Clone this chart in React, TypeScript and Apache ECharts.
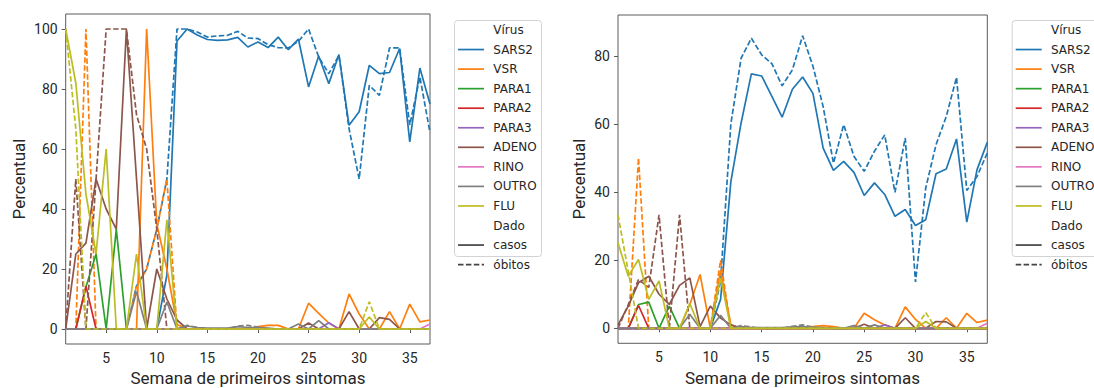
import React, { useEffect, useRef } from "react";
import * as echarts from "echarts";

// ---------- categories ----------
const weeks = [1, 2, 3, 4, 5, 6, 7, 8, 9, 10, 11, 12, 13, 14, 15, 16, 17, 18, 19, 20, 21, 22, 23, 24, 25, 26, 27, 28, 29, 30, 31, 32, 33, 34, 35, 36, 37];
const viruses = ["SARS2", "VSR", "PARA1", "PARA2", "PARA3", "ADENO", "RINO", "OUTRO", "FLU"];
const dataKinds = ["casos", "óbitos"];
const xTicks = [5, 10, 15, 20, 25, 30, 35];
const yTicksLeft = [0, 20, 40, 60, 80, 100];
const yTicksRight = [0, 20, 40, 60, 80];

// ---------- left panel (percent) ----------
const leftSARS2Casos = [0, 0, 0, 0, 0, 0, 0, 0, 0, 0, 18, 96, 100, 98, 96.5, 96.2, 96.4, 97.2, 94, 95.7, 93.8, 97.3, 93.1, 96.6, 80.7, 91, 81.8, 91.5, 67.9, 72.4, 87.9, 85.1, 85.5, 93.5, 62.4, 87, 75];
const leftSARS2Obitos = [0, 0, 0, 0, 0, 0, 0, 14.3, 20, 33.3, 50, 100, 100, 99, 97.3, 97.7, 97.9, 99.2, 97, 96.8, 94.8, 93.8, 93.7, 95.9, 100, 90.7, 85.1, 91.2, 66.8, 50, 81.2, 77.9, 93.7, 93.7, 68, 84, 65.5];
const leftVSRCasos = [0, 0, 0, 0, 0, 0, 0, 0, 100, 35, 20, 1.5, 0, 0, 0, 0, 0, 0, 0, 0.8, 1.2, 1.2, 0, 0, 8.6, 5.2, 2, 0, 11.7, 5, 0, 0, 5.8, 0, 8.3, 2.4, 3];
const leftVSRObitos = [0, 0, 100, 0, 0, 0, 0, 14.3, 20, 33.3, 50, 0, 0, 0, 0, 0, 0, 0, 0, 0, 0, 0, 0, 0, 0, 0, 0, 0, 0, 0, 0, 0, 0, 0, 0, 0, 0];
const leftPARA1Casos = [0, 0, 14, 25, 0, 33.3, 0, 0, 0, 0, 0, 0, 0, 0, 0, 0, 0, 0, 0, 0, 0, 0, 0, 0, 0, 0, 0, 0, 0, 0, 0, 0, 0, 0, 0, 0, 0];
const leftPARA1Obitos = [0, 0, 0, 0, 0, 0, 0, 0, 0, 0, 0, 0, 0, 0, 0, 0, 0, 0, 0, 0, 0, 0, 0, 0, 0, 0, 0, 0, 0, 0, 0, 0, 0, 0, 0, 0, 0];
const leftPARA2Casos = [0, 0, 14.3, 0, 0, 0, 0, 0, 0, 0, 0, 0, 0, 0, 0, 0, 0, 0, 0, 0, 0, 0, 0, 0, 0, 0, 0, 0, 0, 0, 0, 0, 0, 0, 0, 0, 0];
const leftPARA2Obitos = [0, 0, 0, 0, 0, 0, 0, 0, 0, 0, 0, 0, 0, 0, 0, 0, 0, 0, 0, 0, 0, 0, 0, 0, 0, 0, 0, 0, 0, 0, 0, 0, 0, 0, 0, 0, 0];
const leftPARA3Casos = [0, 0, 0, 0, 0, 0, 0, 0, 0, 0, 0, 0, 0, 0, 0, 0, 0, 0, 0, 0, 0, 0, 0, 0, 0, 0, 2.1, 0, 0, 0, 0, 0, 0, 0, 0, 0, 0];
const leftPARA3Obitos = [0, 0, 0, 0, 0, 0, 0, 0, 0, 0, 0, 0, 0, 0, 0, 0, 0, 0, 0, 0, 0, 0, 0, 0, 0, 0, 0, 0, 0, 0, 0, 0, 0, 0, 0, 0, 0];
const leftADENOCasos = [0, 25, 28.6, 50, 40, 33.3, 100, 50, 0, 20, 10, 3, 0, 0, 0, 0, 0, 0, 0, 0, 0, 0, 0, 0, 2, 0, 0, 0, 5.8, 0, 0, 3.8, 3.2, 0, 0, 0, 0];
const leftADENOObitos = [0, 50, 0, 50, 100, 100, 100, 71.4, 60, 33.3, 0, 0, 0, 0, 0, 0, 0, 0, 0, 0, 0, 0, 0, 0, 0, 0, 0, 0, 0, 0, 0, 0, 0, 0, 0, 0, 0];
const leftRINOCasos = [0, 0, 0, 0, 0, 0, 0, 0, 0, 0, 0, 0, 0, 0, 0, 0, 0, 0, 0, 0, 0, 0, 0, 0, 0, 0, 0, 0, 0, 0, 0, 0, 0, 0, 0, 0, 1.7];
const leftRINOObitos = [0, 0, 0, 0, 0, 0, 0, 0, 0, 0, 0, 0, 0, 0, 0, 0, 0, 0, 0, 0, 0, 0, 0, 0, 0, 0, 0, 0, 0, 0, 0, 0, 0, 0, 0, 0, 0];
const leftOUTROCasos = [0, 0, 0, 0, 0, 0, 0, 12.5, 0, 0, 9, 0, 1, 0.5, 0.3, 0.3, 0.3, 0.8, 0.5, 0.5, 0.3, 0, 0, 1.7, 0, 2.8, 0, 0, 0, 0, 0, 0, 0, 0, 0, 0, 0];
const leftOUTROObitos = [0, 0, 0, 0, 0, 0, 0, 0, 0, 0, 0, 0, 1.2, 0.5, 0, 0, 0, 1, 1.2, 0.6, 0, 0, 0, 0, 0, 0, 0, 0, 0, 0, 0, 0, 0, 0, 0, 0, 0];
const leftFLUCasos = [100, 82, 45, 25, 60, 0, 0, 25, 0, 0, 36.4, 0, 0, 0, 0, 0, 0, 0, 0, 0, 0, 0, 0, 0, 0, 0, 0, 0, 0, 0, 4, 0, 0, 0, 0, 0, 0];
const leftFLUObitos = [100, 66.7, 0, 0, 0, 0, 0, 0, 0, 0, 0, 0, 0, 0, 0, 0, 0, 0, 0, 0, 0, 0, 0, 0, 0, 0, 0, 0, 0, 0, 9.1, 0, 0, 0, 0, 0, 0];

// ---------- right panel (percent) ----------
const rightSARS2Casos = [0, 0, 0, 0, 0, 0, 0, 0, 0, 0, 8.5, 43, 60.3, 74.7, 74.1, 68.1, 62, 70.2, 73.8, 69, 52.9, 46.4, 49, 45.8, 39, 42.7, 39.3, 32.9, 34.9, 30.2, 31.9, 45.4, 46.8, 55.6, 31.2, 46.6, 54.6];
const rightSARS2Obitos = [0, 0, 0, 0, 0, 0, 0, 0, 0, 0, 13.9, 60, 79.3, 85.2, 80.3, 77.7, 71.2, 75.9, 85.9, 77, 65.1, 48.5, 59.8, 50.5, 46.1, 52, 56.8, 39.9, 55.9, 13.6, 41.2, 53.9, 62.2, 73.7, 40.5, 44.6, 51.5];
const rightVSRCasos = [0, 0, 0, 0, 0, 0, 0, 7, 15.8, 0, 17, 1, 0, 0, 0, 0, 0, 0, 0, 0.5, 0.8, 0.5, 0, 0, 4.4, 2.5, 1, 0, 6.3, 2.6, 0, 0, 3.1, 0, 4.4, 1.7, 2.4];
const rightVSRObitos = [0, 0, 50, 0, 0, 0, 0, 0, 0, 0, 20, 0, 0, 0, 0, 0, 0, 0, 0, 0, 0, 0, 0, 0, 0, 0, 0, 0, 0, 0, 0, 0, 0, 0, 0, 0, 0];
const rightPARA1Casos = [0, 0, 7, 7.7, 0, 6.5, 0, 0, 0, 0, 0, 0, 0, 0, 0, 0, 0, 0, 0, 0, 0, 0, 0, 0, 0, 0, 0, 0, 0, 0, 0, 0, 0, 0, 0, 0, 0];
const rightPARA1Obitos = [0, 0, 0, 0, 0, 0, 0, 0, 0, 0, 0, 0, 0, 0, 0, 0, 0, 0, 0, 0, 0, 0, 0, 0, 0, 0, 0, 0, 0, 0, 0, 0, 0, 0, 0, 0, 0];
const rightPARA2Casos = [0, 0, 6.7, 0, 0, 0, 0, 0, 0, 0, 0, 0, 0, 0, 0, 0, 0, 0, 0, 0, 0, 0, 0, 0, 0, 0, 0, 0, 0, 0, 0, 0, 0, 0, 0, 0, 0];
const rightPARA2Obitos = [0, 0, 0, 0, 0, 0, 0, 0, 0, 0, 0, 0, 0, 0, 0, 0, 0, 0, 0, 0, 0, 0, 0, 0, 0, 0, 0, 0, 0, 0, 0, 0, 0, 0, 0, 0, 0];
const rightPARA3Casos = [0, 0, 0, 0, 0, 0, 0, 0, 0, 0, 0, 0, 0, 0, 0, 0, 0, 0, 0, 0, 0, 0, 0, 0, 0, 0, 1, 0, 0, 0, 0, 0, 0, 0, 0, 0, 0];
const rightPARA3Obitos = [0, 0, 0, 0, 0, 0, 0, 0, 0, 0, 0, 0, 0, 0, 0, 0, 0, 0, 0, 0, 0, 0, 0, 0, 0, 0, 0, 0, 0, 0, 0, 0, 0, 0, 0, 0, 0];
const rightADENOCasos = [1, 6.5, 13.4, 15.3, 10, 7, 12.6, 14.8, 0.5, 6.5, 3, 1, 0, 0, 0, 0, 0, 0, 0, 0, 0, 0, 0, 0, 1.2, 0, 0, 0, 3.1, 0, 0, 2, 1.9, 0, 0, 0, 0];
const rightADENOObitos = [0, 7, 14.3, 12, 33.3, 0, 33.3, 0, 0, 0, 0, 0, 0, 0, 0, 0, 0, 0, 0, 0, 0, 0, 0, 0, 0, 0, 0, 0, 0, 0, 0, 0, 0, 0, 0, 0, 0];
const rightRINOCasos = [0, 0, 0, 0, 0, 0, 0, 0, 0, 0, 0, 0, 0, 0, 0, 0, 0, 0, 0, 0, 0, 0, 0, 0, 0, 0, 0, 0, 0, 0, 0, 0, 0, 0, 0, 0, 1.5];
const rightRINOObitos = [0, 0, 0, 0, 0, 0, 0, 0, 0, 0, 0, 0, 0, 0, 0, 0, 0, 0, 0, 0, 0, 0, 0, 0, 0, 0, 0, 0, 0, 0, 0, 0, 0, 0, 0, 0, 0];
const rightOUTROCasos = [0, 0, 0, 0, 0, 0, 0, 4.1, 0, 0, 3.8, 0, 0.5, 0.2, 0.2, 0.2, 0.2, 0.4, 0.5, 0.3, 0.2, 0, 0, 0.8, 0, 1, 0, 0, 0, 0, 0, 0, 0, 0, 0, 0, 0];
const rightOUTROObitos = [0, 0, 0, 0, 0, 0, 0, 0, 0, 0, 0, 0, 0.8, 0.4, 0, 0, 0, 0.6, 1, 0.4, 0, 0, 0, 0, 0, 0, 0, 0, 0, 0, 0, 0, 0, 0, 0, 0, 0];
const rightFLUCasos = [25.1, 15.3, 20.2, 8.5, 13.9, 0, 0, 7.3, 0, 0, 14.8, 0, 0, 0, 0, 0, 0, 0, 0, 0, 0, 0, 0, 0, 0, 0, 0, 0, 0, 0, 2, 0, 0, 0, 0, 0, 0];
const rightFLUObitos = [33.3, 16.7, 0, 0, 0, 0, 0, 0, 0, 0, 0, 0, 0, 0, 0, 0, 0, 0, 0, 0, 0, 0, 0, 0, 0, 0, 0, 0, 0, 0, 4.6, 0, 0, 0, 0, 0, 0];

const leftCasos = [leftSARS2Casos, leftVSRCasos, leftPARA1Casos, leftPARA2Casos, leftPARA3Casos, leftADENOCasos, leftRINOCasos, leftOUTROCasos, leftFLUCasos];
const leftObitos = [leftSARS2Obitos, leftVSRObitos, leftPARA1Obitos, leftPARA2Obitos, leftPARA3Obitos, leftADENOObitos, leftRINOObitos, leftOUTROObitos, leftFLUObitos];
const rightCasos = [rightSARS2Casos, rightVSRCasos, rightPARA1Casos, rightPARA2Casos, rightPARA3Casos, rightADENOCasos, rightRINOCasos, rightOUTROCasos, rightFLUCasos];
const rightObitos = [rightSARS2Obitos, rightVSRObitos, rightPARA1Obitos, rightPARA2Obitos, rightPARA3Obitos, rightADENOObitos, rightRINOObitos, rightOUTROObitos, rightFLUObitos];

// ---------- styling ----------
const COLORS = ["#1f77b4", "#ff7f0e", "#2ca02c", "#d62728", "#9467bd", "#8c564b", "#e377c2", "#7f7f7f", "#bcbd22"];
const DASH = [5.5, 2.4];
const LW = 1.7;
const TEXT = "#262626";
const SPINE = "#5a5a5a";
const AXIS_FONT = "Roboto";
const LEGEND_FONT = "DejaVu Sans";

function buildSeries(casos: number[][], obitos: number[][], idx: number) {
  const out: any[] = [];
  viruses.forEach((name, i) => {
    [casos[i], obitos[i]].forEach((arr, k) => {
      out.push({
        type: "line",
        name: name + " " + dataKinds[k],
        xAxisIndex: idx,
        yAxisIndex: idx,
        data: weeks.map((w, j) => [w, arr[j]]),
        showSymbol: false,
        symbol: "none",
        silent: true,
        lineStyle: { color: COLORS[i], width: LW, type: k === 0 ? "solid" : DASH },
        itemStyle: { color: COLORS[i] },
      });
    });
  });
  return out;
}

function xAxisCfg(idx: number) {
  return {
    type: "value",
    gridIndex: idx,
    min: 1,
    max: 37,
    axisLine: { show: false },
    splitLine: { show: false },
    axisTick: { show: true, length: 4, lineStyle: { color: SPINE, width: 1 }, customValues: xTicks },
    axisLabel: { color: TEXT, fontSize: 14, fontFamily: AXIS_FONT, margin: 7, customValues: xTicks },
  };
}

function yAxisCfg(idx: number, min: number, max: number, ticks: number[]) {
  return {
    type: "value",
    gridIndex: idx,
    min,
    max,
    axisLine: { show: false },
    splitLine: { show: false },
    axisTick: { show: true, length: 4, lineStyle: { color: SPINE, width: 1 }, customValues: ticks },
    axisLabel: { color: TEXT, fontSize: 14, fontFamily: AXIS_FONT, margin: 8, customValues: ticks },
  };
}

function legendGraphics(x0: number, y0: number) {
  const els: any[] = [];
  els.push({
    type: "rect",
    shape: { x: x0 + 0.5, y: y0 + 0.5, width: 87, height: 236, r: 3 },
    style: { fill: "rgba(255,255,255,0.8)", stroke: "#d3d3d3", lineWidth: 1 },
    z: 10,
  });
  const rows: { label: string; color?: string; dashed?: boolean }[] = [];
  rows.push({ label: "Vírus" });
  viruses.forEach((v, i) => rows.push({ label: v, color: COLORS[i] }));
  rows.push({ label: "Dado" });
  rows.push({ label: dataKinds[0], color: "#444444" });
  rows.push({ label: dataKinds[1], color: "#444444", dashed: true });
  rows.forEach((r, i) => {
    const y = y0 + 10 + i * 19.55;
    if (r.color) {
      els.push({
        type: "line",
        shape: { x1: x0 + 4, y1: y, x2: x0 + 30, y2: y },
        style: { stroke: r.color, lineWidth: LW, lineDash: r.dashed ? DASH : null },
        z: 11,
      });
    }
    els.push({
      type: "text",
      x: x0 + 39.3,
      y,
      style: { text: r.label, fill: TEXT, font: `12px "${LEGEND_FONT}"`, align: "left", verticalAlign: "middle" },
      z: 11,
    });
  });
  return els;
}

export default function App() {
  const ref = useRef<HTMLDivElement>(null);
  useEffect(() => {
    if (!ref.current) return;
    const chart = echarts.init(ref.current, undefined, { renderer: "svg" });
    const option: any = {
      animation: false,
      backgroundColor: "#ffffff",
      grid: [
        { left: 65.7, top: 14, width: 364.3, height: 330, show: true, borderColor: SPINE, borderWidth: 1, backgroundColor: "transparent", containLabel: false },
        { left: 618, top: 15, width: 369.3, height: 328.3, show: true, borderColor: SPINE, borderWidth: 1, backgroundColor: "transparent", containLabel: false },
      ],
      xAxis: [xAxisCfg(0), xAxisCfg(1)],
      yAxis: [yAxisCfg(0, -5, 105, yTicksLeft), yAxisCfg(1, -4.4, 92, yTicksRight)],
      series: [...buildSeries(leftCasos, leftObitos, 0), ...buildSeries(rightCasos, rightObitos, 1)],
      graphic: [
        { type: "text", x: 19, y: 179, rotation: Math.PI / 2, style: { text: "Percentual", fill: TEXT, font: `17px "${AXIS_FONT}"`, align: "center", verticalAlign: "middle" } },
        { type: "text", x: 579, y: 179, rotation: Math.PI / 2, style: { text: "Percentual", fill: TEXT, font: `17px "${AXIS_FONT}"`, align: "center", verticalAlign: "middle" } },
        { type: "text", x: 248, y: 378, style: { text: "Semana de primeiros sintomas", fill: TEXT, font: `17px "${AXIS_FONT}"`, align: "center", verticalAlign: "middle" } },
        { type: "text", x: 802.5, y: 378, style: { text: "Semana de primeiros sintomas", fill: TEXT, font: `17px "${AXIS_FONT}"`, align: "center", verticalAlign: "middle" } },
        ...legendGraphics(454, 20),
        ...legendGraphics(1011.7, 20),
      ],
    };
    chart.setOption(option);
    return () => chart.dispose();
  }, []);
  return <div ref={ref} style={{ position: "absolute", left: 0, top: 0, width: 1094, height: 388 }} />;
}
